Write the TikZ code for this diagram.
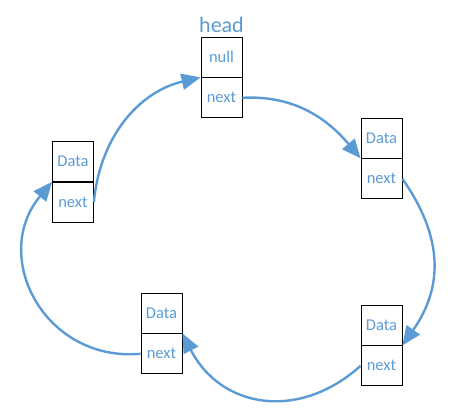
\documentclass[tikz,border=0pt]{standalone}
\usepackage{fontspec}
\setmainfont{Carlito}
\usetikzlibrary{arrows.meta, positioning}
\definecolor{listblue}{RGB}{91, 155, 213}

\begin{document}
\begin{tikzpicture}[
    x=1pt, y=1pt,
    >=Stealth,
    cell/.style={rectangle, draw=black, line width=0.8pt, minimum width=41pt, minimum height=40pt, inner sep=0pt, font=\fontsize{16.5}{18}\selectfont, text=listblue},
    link/.style={-{Triangle[length=19pt, width=16pt]}, line width=2.4pt, draw=listblue}
  ]
  \useasboundingbox (0,0) rectangle (452,413);

  % Nodes
  \node[cell] (headnull) at (221.5, 356) {null};
  \node[cell, below=0pt of headnull] (headnext) {next};
  \node[font=\fontsize{22}{24}\selectfont, text=listblue, above=0pt of headnull] (headlbl) {head};

  \node[cell] (adata) at (381.5, 275) {Data};
  \node[cell, below=0pt of adata] (anext) {next};

  \node[cell] (bdata) at (381.5, 88) {Data};
  \node[cell, below=0pt of bdata] (bnext) {next};

  \node[cell] (cdata) at (161.5, 100) {Data};
  \node[cell, below=0pt of cdata] (cnext) {next};

  \node[cell] (ddata) at (73, 251.5) {Data};
  \node[cell, below=0pt of ddata] (dnext) {next};

  % Links
  \draw[link] (dnext.east) to[out=85, in=193] (headnull.south west);
  \draw[link] (headnext.east) to[out=3, in=130] (adata.south west);
  \draw[link] (anext.east) to[out=-55, in=55, looseness=1.1] (bdata.south east);
  \draw[link] (bnext.west) to[out=222, in=-63, looseness=1.18] (cdata.south east);
  \draw[link] (cnext.west) to[out=185, in=230, looseness=1.28] (ddata.south west);

\end{tikzpicture}
\end{document}
